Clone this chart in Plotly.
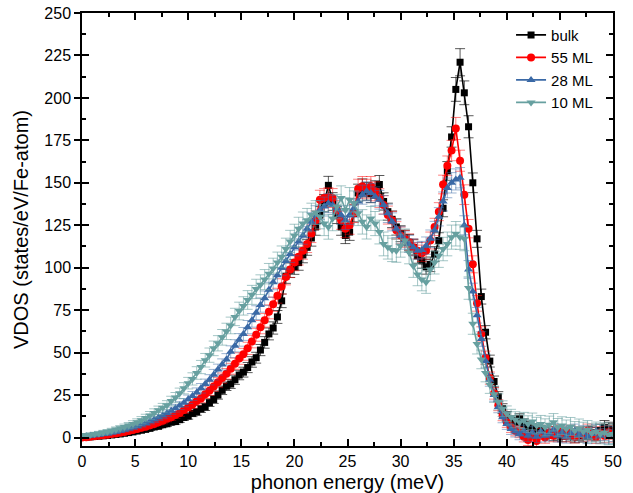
import plotly.graph_objects as go

energy = [0.0,0.4,0.8,1.2,1.6,2.0,2.4,2.8,3.2,3.6,
          4.0,4.4,4.8,5.2,5.6,6.0,6.4,6.8,7.2,7.6,
          8.0,8.4,8.8,9.2,9.6,10.0,10.4,10.8,11.2,11.6,
          12.0,12.4,12.8,13.2,13.6,14.0,14.4,14.8,15.2,15.6,
          16.0,16.4,16.8,17.2,17.6,18.0,18.4,18.8,19.2,19.6,
          20.0,20.4,20.8,21.2,21.6,22.0,22.4,22.8,23.2,23.6,
          24.0,24.4,24.8,25.2,25.6,26.0,26.4,26.8,27.2,27.6,
          28.0,28.4,28.8,29.2,29.6,30.0,30.4,30.8,31.2,31.6,
          32.0,32.4,32.8,33.2,33.6,34.0,34.4,34.8,35.2,35.6,
          36.0,36.4,36.8,37.2,37.6,38.0,38.4,38.8,39.2,39.6,
          40.0,40.4,40.8,41.2,41.6,42.0,42.4,42.8,43.2,43.6,
          44.0,44.4,44.8,45.2,45.6,46.0,46.4,46.8,47.2,47.6,
          48.0,48.4,48.8,49.2,49.6,50.0]

bulk = [0.0,0.2,0.4,0.6,0.8,1.0,1.2,1.5,1.8,2.1,
        2.5,2.9,3.3,3.8,4.3,4.8,5.4,6.2,6.6,7.5,
        8.1,9.0,9.4,10.5,11.8,12.6,14.2,15.1,16.8,18.0,
        20.5,22.4,25.0,27.8,30.2,31.5,34.0,36.8,38.5,41.2,
        44.5,47.0,51.5,56.0,61.0,64.5,71.0,80.5,95.0,98.5,
        100.5,103.0,107.5,112.0,117.5,124.0,131.0,138.0,148.5,139.0,
        131.0,124.0,119.0,121.0,132.0,144.0,147.0,145.0,143.5,146.0,
        149.0,139.0,133.0,128.5,124.0,120.0,117.5,115.0,112.0,107.0,
        104.0,100.5,102.0,108.0,116.0,135.0,157.0,177.0,205.0,221.0,
        203.0,183.0,150.0,117.0,83.0,62.0,45.0,33.0,24.0,17.0,
        12.5,10.0,9.0,11.0,8.0,6.5,5.0,3.5,4.0,2.5,
        3.0,1.5,2.0,1.0,2.5,1.5,0.5,2.0,1.0,2.5,
        3.0,2.0,4.0,6.0,5.0,4.0]

ml55 = [0.0,0.2,0.5,0.7,1.0,1.3,1.6,2.0,2.4,2.8,
        3.3,3.8,4.4,5.0,5.7,6.4,7.2,8.0,9.0,9.8,
        11.0,12.0,13.3,14.5,16.2,17.8,19.5,21.5,23.0,25.5,
        27.5,30.0,32.5,35.0,37.5,40.5,43.5,46.5,49.0,52.5,
        56.5,60.5,65.0,69.0,74.0,78.5,83.5,89.0,94.5,99.0,
        103.0,106.5,110.0,114.0,120.0,128.0,140.0,141.0,141.5,141.0,
        134.0,128.0,123.0,125.0,132.0,146.5,148.0,146.5,148.0,145.0,
        141.0,137.0,131.0,128.0,122.0,119.0,117.0,115.0,112.0,110.0,
        108.5,110.0,116.0,124.0,133.0,149.0,160.0,169.0,182.0,163.0,
        143.0,123.0,102.0,79.0,61.0,47.0,35.0,26.0,19.0,13.0,
        9.0,6.0,4.0,3.0,0.5,-1.5,1.0,-2.0,2.0,0.0,
        3.0,1.0,4.0,2.5,1.0,3.5,0.5,2.5,1.5,4.0,
        2.0,0.5,2.5,1.0,3.0,1.5]

ml28 = [0.5,0.7,1.0,1.3,1.6,2.0,2.4,2.9,3.4,4.0,
        4.6,5.3,6.0,6.8,7.7,8.6,9.6,10.6,11.8,13.0,
        14.3,15.8,17.2,18.8,20.5,22.5,24.5,26.5,29.0,31.5,
        34.0,37.0,40.0,43.0,46.0,50.5,54.0,57.5,61.0,65.0,
        69.0,73.5,78.0,82.0,87.0,91.5,95.5,100.0,104.0,108.0,
        112.0,115.5,119.0,123.0,127.0,131.0,134.0,136.0,138.0,137.0,
        135.0,131.0,128.0,131.0,135.0,139.0,143.0,145.0,144.0,142.0,
        140.0,137.0,132.0,127.0,123.0,119.0,116.0,114.0,112.0,110.0,
        110.5,113.0,117.0,122.0,130.0,139.0,147.0,150.0,152.0,153.0,
        125.0,99.0,86.0,72.0,58.0,45.0,34.0,25.0,18.0,12.0,
        8.0,5.0,3.5,2.0,4.0,1.0,3.0,0.5,3.5,1.0,
        2.0,4.5,1.0,3.0,0.5,2.5,4.0,1.5,3.0,0.5,
        2.0,3.5,1.0,2.5,0.5,2.0]

ml10 = [1.0,1.3,1.6,2.0,2.4,2.9,3.4,4.0,4.7,5.4,
        6.2,7.0,8.0,9.0,10.2,11.5,13.0,14.5,16.0,17.5,
        19.0,21.5,23.5,26.0,29.0,32.0,34.5,38.0,41.5,45.5,
        48.5,52.5,55.5,59.0,62.5,66.0,71.0,74.5,77.5,81.0,
        84.0,87.5,90.0,93.0,96.5,99.5,103.0,106.5,111.0,115.5,
        119.0,123.0,126.0,128.0,131.0,132.5,130.0,126.0,124.0,129.0,
        136.0,141.0,134.0,140.0,138.0,132.0,127.0,124.0,129.0,126.0,
        121.0,114.0,112.0,110.5,110.0,113.0,116.0,109.0,101.0,96.0,
        93.0,91.5,99.0,103.0,107.0,111.0,114.0,118.0,120.0,118.0,
        117.0,88.0,67.0,55.0,46.0,38.0,31.0,25.5,21.0,17.0,
        14.0,12.0,10.5,9.0,10.0,8.0,9.5,7.0,8.0,6.0,
        7.5,9.0,6.0,7.0,5.0,6.5,4.0,5.5,3.5,4.5,
        2.5,3.5,2.0,3.0,1.5,2.0]

bulk_err = [0.5,0.5,0.6,0.6,0.7,0.7,0.8,0.8,0.9,0.9,1.0,1.0,1.1,
            1.1,1.2,1.2,1.3,1.3,1.4,1.4,1.5,1.5,1.6,1.6,1.7,1.8,
            1.9,2.0,2.0,2.1,2.2,2.3,2.4,2.5,2.5,2.6,2.7,2.8,
            2.9,3.0,3.1,3.2,3.3,3.4,3.5,3.6,3.8,4.0,4.2,4.3,
            4.4,4.5,4.6,4.7,4.8,4.9,5.0,5.1,5.3,5.2,5.0,4.9,
            4.8,4.9,5.0,5.2,5.3,5.2,5.2,5.2,5.3,5.1,5.0,4.9,
            4.8,4.7,4.6,4.6,4.5,4.4,4.3,4.3,4.3,4.4,4.6,5.0,
            5.5,6.0,7.0,8.0,7.0,6.5,5.8,5.0,4.4,3.9,3.5,3.2,
            3.0,2.9,2.8,2.8,2.9,3.0,3.0,3.1,3.1,3.2,3.2,3.3,
            3.3,3.4,3.4,3.5,3.5,3.6,3.6,3.7,3.7,3.8,3.8,3.9,3.9,4.0,4.0,4.1]

ml55_err = [0.6,0.6,0.7,0.7,0.8,0.8,0.9,0.9,1.0,1.0,1.1,1.1,1.2,
            1.3,1.3,1.4,1.5,1.5,1.6,1.7,1.7,1.8,1.9,2.0,2.1,2.2,
            2.3,2.4,2.5,2.6,2.7,2.8,2.9,3.0,3.1,3.2,3.3,3.4,
            3.5,3.6,3.7,3.8,3.9,4.0,4.1,4.2,4.4,4.5,4.6,4.7,
            4.8,4.9,5.0,5.1,5.2,5.4,5.6,5.6,5.6,5.6,5.5,5.4,
            5.3,5.3,5.4,5.6,5.7,5.6,5.7,5.6,5.5,5.4,5.3,5.2,
            5.1,5.0,5.0,4.9,4.9,4.8,4.8,4.9,5.0,5.1,5.3,5.5,
            5.8,6.0,6.5,6.2,5.8,5.4,5.0,4.6,4.2,3.9,3.6,3.4,
            3.2,3.1,3.0,3.0,3.0,3.1,3.1,3.2,3.2,3.3,3.3,3.4,
            3.4,3.5,3.5,3.6,3.6,3.7,3.7,3.8,3.8,3.9,3.9,4.0,4.0,4.1,4.1,4.2]

ml28_err = [0.7,0.7,0.8,0.8,0.9,0.9,1.0,1.0,1.1,1.1,1.2,1.3,1.3,
            1.4,1.5,1.5,1.6,1.7,1.8,1.9,2.0,2.1,2.2,2.3,2.4,2.5,
            2.6,2.7,2.8,2.9,3.0,3.1,3.2,3.3,3.4,3.5,3.6,3.7,
            3.8,3.9,4.0,4.1,4.2,4.3,4.4,4.5,4.6,4.7,4.8,4.9,
            5.0,5.1,5.2,5.3,5.4,5.5,5.6,5.6,5.6,5.6,5.6,5.5,
            5.5,5.5,5.5,5.6,5.6,5.6,5.6,5.6,5.5,5.5,5.4,5.3,
            5.2,5.1,5.1,5.0,5.0,5.0,5.0,5.1,5.2,5.3,5.4,5.6,
            5.8,6.0,6.2,6.0,5.6,5.2,4.9,4.6,4.3,4.0,3.8,3.6,
            3.4,3.3,3.2,3.2,3.2,3.3,3.3,3.4,3.4,3.5,3.5,3.6,
            3.6,3.7,3.7,3.8,3.8,3.9,3.9,4.0,4.0,4.1,4.1,4.2,4.2,4.3,4.3,4.4]

ml10_err = [1.0,1.0,1.1,1.1,1.2,1.3,1.3,1.4,1.5,1.6,1.7,1.8,1.9,
            2.0,2.1,2.2,2.3,2.4,2.5,2.6,2.7,2.8,3.0,3.1,3.3,3.4,
            3.6,3.7,3.9,4.0,4.2,4.3,4.5,4.6,4.8,4.9,5.1,5.2,
            5.4,5.5,5.6,5.7,5.8,5.9,6.0,6.1,6.2,6.3,6.4,6.5,
            6.6,6.7,6.8,6.9,7.0,7.0,7.1,7.1,7.2,7.2,7.2,7.2,
            7.2,7.2,7.2,7.2,7.2,7.1,7.1,7.1,7.0,7.0,6.9,6.9,
            6.8,6.8,6.8,6.7,6.7,6.6,6.6,6.6,6.7,6.7,6.8,6.9,
            7.0,7.1,7.2,7.2,7.0,6.6,6.2,5.8,5.5,5.2,5.0,4.8,
            4.7,4.6,4.6,4.6,4.7,4.7,4.8,4.8,4.9,4.9,5.0,5.0,
            5.1,5.1,5.2,5.2,5.3,5.3,5.4,5.4,5.5,5.5,5.6,5.6,5.7,5.7,5.8,5.8]

series_names = ["bulk", "55 ML", "28 ML", "10 ML"]
series_values = [bulk, ml55, ml28, ml10]
series_errors = [bulk_err, ml55_err, ml28_err, ml10_err]
colors = ["#000000", "#ff0000", "#3a69a6", "#67a0a0"]
err_colors = ["rgba(0,0,0,0.65)", "rgba(255,0,0,0.5)", "rgba(58,105,166,0.5)", "rgba(103,160,160,0.6)"]
symbols = ["square", "circle", "triangle-up", "triangle-down"]
sizes = [7, 8, 8, 8]

FONT = "Liberation Sans, Arial, sans-serif"

fig = go.Figure()
for name, vals, errs, c, ec, sym, sz in zip(series_names, series_values, series_errors,
                                             colors, err_colors, symbols, sizes):
    fig.add_trace(go.Scatter(
        x=energy, y=vals, name=name, mode="lines+markers",
        line=dict(color=c, width=1.6),
        marker=dict(symbol=sym, size=sz, color=c, line=dict(width=0)),
        error_y=dict(type="data", array=errs, visible=True, color=ec,
                     thickness=1, width=5),
    ))

# helper trace for the overlay axis carrying inner ticks
fig.add_trace(go.Scatter(x=[None], y=[None], yaxis="y2", showlegend=False,
                         hoverinfo="skip"))

fig.update_layout(
    width=633, height=493,
    margin=dict(l=82, r=20, t=13, b=47),
    paper_bgcolor="white", plot_bgcolor="white",
    font=dict(family=FONT, size=16, color="black"),
    showlegend=True,
    legend=dict(x=0.808, y=0.987, xanchor="left", yanchor="top",
                bgcolor="rgba(0,0,0,0)", borderwidth=0,
                font=dict(family=FONT, size=15, color="black"),
                tracegroupgap=0),
    xaxis=dict(
        range=[0, 50], tick0=0, dtick=5, automargin=False,
        showline=True, linecolor="black", linewidth=1.5, mirror="ticks",
        ticks="inside", ticklen=7, tickwidth=1.5, tickcolor="black",
        minor=dict(ticks="inside", ticklen=4, tickwidth=1.5, tickcolor="black", dtick=2.5),
        showgrid=False, zeroline=False,
        tickfont=dict(family=FONT, size=16, color="black"),
        ticklabelstandoff=0,
        title=dict(text="phonon energy (meV)", font=dict(family=FONT, size=20, color="black"),
                   standoff=8),
    ),
    yaxis=dict(
        range=[-5, 250], tick0=0, dtick=25, automargin=False,
        showline=True, linecolor="black", linewidth=1.5, mirror=True,
        ticks="outside", ticklen=6, tickwidth=1.5, tickcolor="black",
        showgrid=False, zeroline=False,
        tickfont=dict(family=FONT, size=16, color="black"),
        title=dict(text="VDOS (states/eV/Fe-atom)", font=dict(family=FONT, size=20, color="black"),
                   standoff=10),
    ),
    yaxis2=dict(
        range=[-5, 250], tick0=0, dtick=25, overlaying="y", side="left", automargin=False,
        showline=True, linecolor="black", linewidth=1.5, mirror="ticks",
        ticks="inside", ticklen=7, tickwidth=1.5, tickcolor="black",
        minor=dict(ticks="inside", ticklen=4, tickwidth=1.5, tickcolor="black", dtick=12.5),
        showticklabels=False, showgrid=False, zeroline=False,
    ),
)

fig.write_html("out.html", config={"displayModeBar": False},
               post_script="document.body.style.margin='0px';document.body.style.overflow='hidden';")
